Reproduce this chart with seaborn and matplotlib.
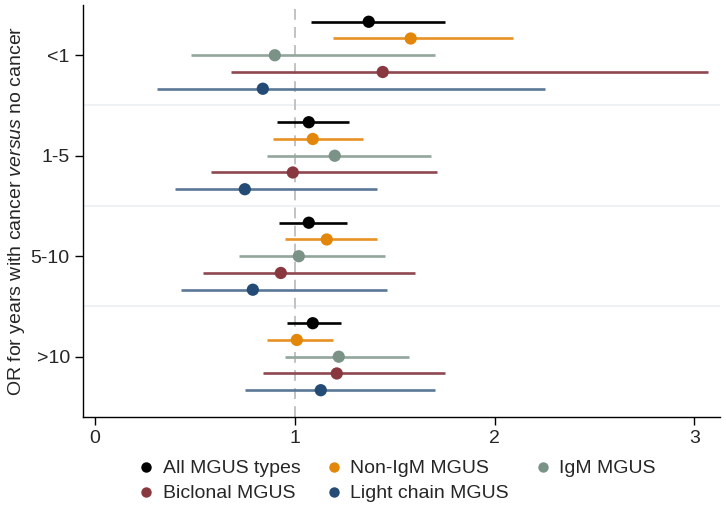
import matplotlib
matplotlib.use("Agg")
import matplotlib.pyplot as plt
from matplotlib.lines import Line2D
import seaborn as sns
import pandas as pd
import numpy as np

# ---- data ----
groups = ["<1", "1-5", "5-10", ">10"]
types = ["All MGUS types", "Non-IgM MGUS", "IgM MGUS", "Biclonal MGUS", "Light chain MGUS"]

or_all = [1.37, 1.07, 1.07, 1.09]
lo_all = [1.08, 0.91, 0.92, 0.96]
hi_all = [1.75, 1.27, 1.26, 1.23]

or_nonigm = [1.58, 1.09, 1.16, 1.01]
lo_nonigm = [1.19, 0.89, 0.95, 0.86]
hi_nonigm = [2.09, 1.34, 1.41, 1.19]

or_igm = [0.90, 1.20, 1.02, 1.22]
lo_igm = [0.48, 0.86, 0.72, 0.95]
hi_igm = [1.70, 1.68, 1.45, 1.57]

or_biclonal = [1.44, 0.99, 0.93, 1.21]
lo_biclonal = [0.68, 0.58, 0.54, 0.84]
hi_biclonal = [3.07, 1.71, 1.60, 1.75]

or_light = [0.84, 0.75, 0.79, 1.13]
lo_light = [0.31, 0.40, 0.43, 0.75]
hi_light = [2.25, 1.41, 1.46, 1.70]

xticks = [0, 1, 2, 3]

marker_colors = ["#000000", "#E3870B", "#7B9387", "#8A3840", "#244B76"]
line_colors = ["#000000", "#E89124", "#92A69C", "#8F4750", "#5A7796"]

# ---- build table ----
ors = [or_all, or_nonigm, or_igm, or_biclonal, or_light]
los = [lo_all, lo_nonigm, lo_igm, lo_biclonal, lo_light]
his = [hi_all, hi_nonigm, hi_igm, hi_biclonal, hi_light]
rows = []
for gi, g in enumerate(groups):
    for ti, t in enumerate(types):
        rows.append(dict(group=g, type=t, OR=ors[ti][gi], lo=los[ti][gi], hi=his[ti][gi],
                         ypos=gi * 6 + ti))
df = pd.DataFrame(rows)

sns.set_theme(style="white")
plt.rcParams["font.family"] = ["Liberation Sans", "DejaVu Sans"]
plt.rcParams["mathtext.fontset"] = "custom"
plt.rcParams["mathtext.it"] = "Liberation Sans:italic"
plt.rcParams["mathtext.rm"] = "Liberation Sans"

fs = 14
fig = plt.figure(figsize=(7.26, 5.22), dpi=100)
ax = fig.add_axes([83 / 726, 1 - 417 / 522, (720 - 83) / 726, (417 - 5) / 522])

# separators
for gi in range(len(groups) - 1):
    ax.axhline(gi * 6 + 5, color="#EDF1F5", lw=1.3, zorder=0)
# reference line
ax.axvline(1, color="#BDBDBD", lw=1.3, dashes=(6, 4), zorder=1)

# CIs
for ti, t in enumerate(types):
    sub = df[df["type"] == t]
    ax.hlines(sub["ypos"], sub["lo"], sub["hi"], color=line_colors[ti], lw=1.9, zorder=2)

sns.scatterplot(data=df, x="OR", y="ypos", hue="type", hue_order=types,
                palette=marker_colors, s=78, edgecolor="none", legend=False,
                ax=ax, zorder=3)

ax.set_xlim(-0.06, 3.128)
ax.set_ylim(23.6, -1.0)
ax.set_xticks(xticks)
ax.set_xticklabels([str(v) for v in xticks], fontsize=fs)
ax.set_yticks([gi * 6 + 2 for gi in range(len(groups))])
ax.set_yticklabels(groups, fontsize=fs)
ax.set_xlabel("")
ax.set_ylabel(r"OR for years with cancer $\it{versus}$ no cancer", fontsize=fs, labelpad=3)

for s in ["top", "right"]:
    ax.spines[s].set_visible(False)
for s in ["left", "bottom"]:
    ax.spines[s].set_color("#000000")
    ax.spines[s].set_linewidth(1.0)
ax.tick_params(axis="both", which="major", length=6, width=1.0, color="#000000",
               left=True, bottom=True, pad=3.5)

handles = [Line2D([], [], marker="o", linestyle="", color=c, markersize=7.5,
                  markeredgewidth=0) for c in marker_colors]
# row-major order for a 3-column, 2-row legend
order = [0, 3, 1, 4, 2]
fig.legend([handles[i] for i in order], [types[i] for i in order],
           loc="upper center", ncol=3, frameon=False,
           bbox_to_anchor=(398 / 726, 1 - 450 / 522), fontsize=fs,
           handlelength=0.6, handletextpad=0.55, columnspacing=1.42,
           labelspacing=0.38, borderpad=0)

fig.savefig("out.png", dpi=100)
